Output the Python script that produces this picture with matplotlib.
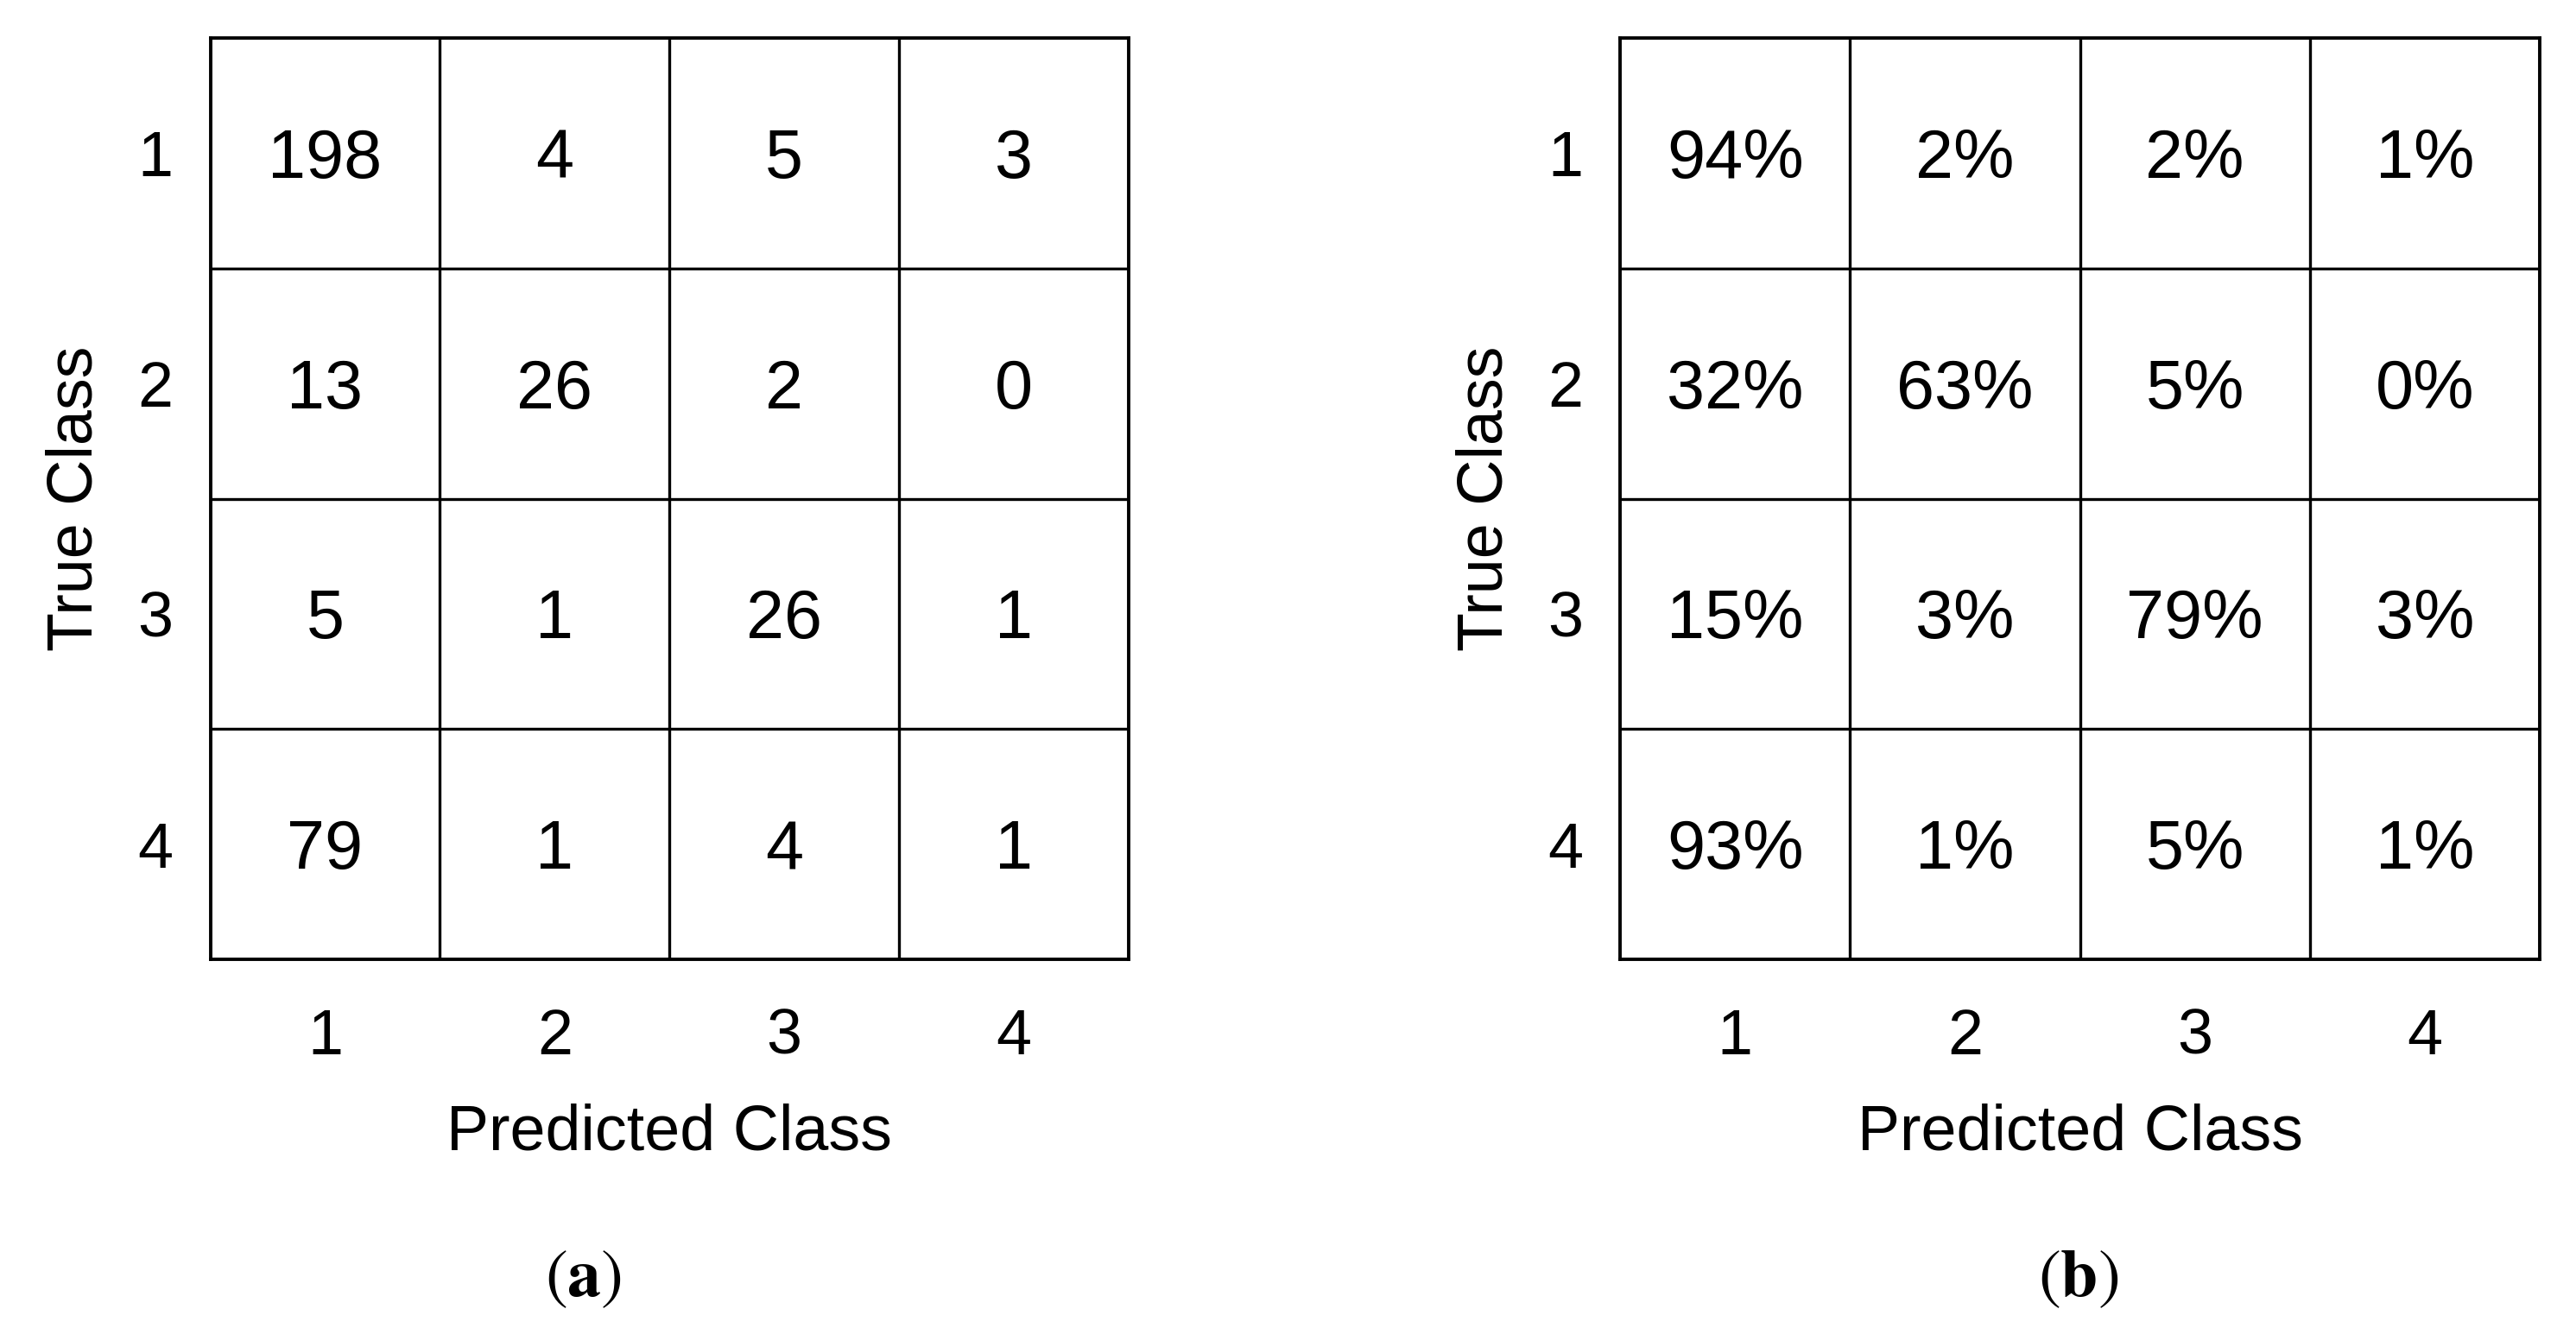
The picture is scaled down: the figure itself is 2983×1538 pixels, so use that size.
import matplotlib
matplotlib.use('Agg')
import matplotlib.pyplot as plt

plt.rcParams['font.family'] = ['Liberation Sans', 'DejaVu Sans']
plt.rcParams['mathtext.fontset'] = 'stix'

# data
classes = ['1', '2', '3', '4']
counts = [
    [198, 4, 5, 3],
    [13, 26, 2, 0],
    [5, 1, 26, 1],
    [79, 1, 4, 1],
]
percents = [
    [94, 2, 2, 1],
    [32, 63, 5, 0],
    [15, 3, 79, 3],
    [93, 1, 5, 1],
]
panel_labels = ['a', 'b']

W, H = 2983, 1538
fig = plt.figure(figsize=(W / 100, H / 100), dpi=100)


def draw_matrix(ax, values, fmt):
    n = len(classes)
    ax.set_xlim(0.5, n + 0.5)
    ax.set_ylim(n + 0.5, 0.5)
    # lignes entre les cases
    for k in range(1, n):
        ax.axhline(k + 0.5, color='black', lw=2.4)
        ax.axvline(k + 0.5, color='black', lw=2.4)
    for i, row in enumerate(values):
        for j, v in enumerate(row):
            # baseline + half cap height so digits sit in the middle
            ax.text(j + 1, i + 1 + 0.107, fmt.format(v), ha='center',
                    va='baseline', fontsize=57, color='black')
    ax.set_xticks(range(1, n + 1))
    ax.set_yticks(range(1, n + 1))
    ax.set_xticklabels(classes)
    ax.set_yticklabels(classes)
    ax.tick_params(length=0, labelsize=53)
    ax.tick_params(axis='x', pad=40)
    ax.tick_params(axis='y', pad=31)
    for s in ax.spines.values():
        s.set_linewidth(2.8)
    ax.set_xlabel('Predicted Class', fontsize=53, labelpad=30)
    ax.set_ylabel('True Class', fontsize=53, labelpad=27)


# (a) counts
ax1 = fig.add_axes([243.5 / W, 1 - 1111 / H, (1307 - 243.5) / W, (1111 - 44) / H])
draw_matrix(ax1, counts, '{}')

# (b) percentages
ax2 = fig.add_axes([1876 / W, 1 - 1111 / H, (2941 - 1876) / W, (1111 - 44) / H])
draw_matrix(ax2, percents, '{}%')

for x, lab in zip([675, 2407], panel_labels):
    fig.text(x / W, 1 - 1481 / H, r'$(\mathbf{' + lab + r'})$',
             ha='center', va='center', fontsize=56)

fig.savefig('out.png', dpi=100, facecolor='white')
